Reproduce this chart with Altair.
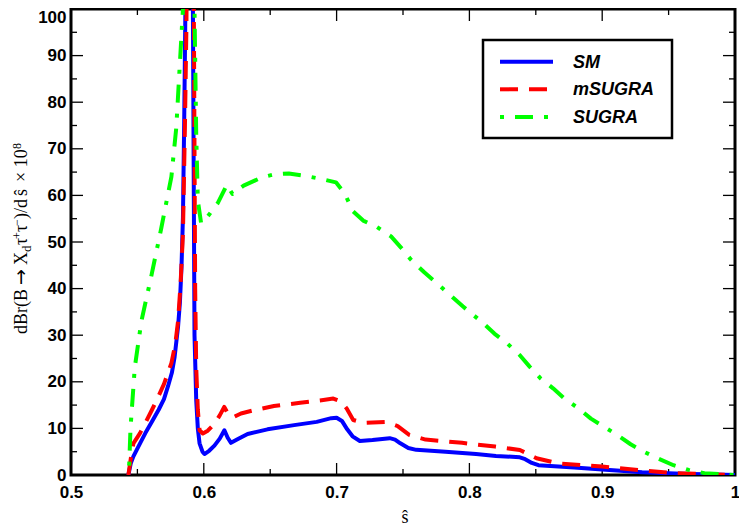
import altair as alt
import pandas as pd

# ---------------- data ----------------
series_names = ["SM", "mSUGRA", "SUGRA"]
series_colors = ["#0000ff", "#ff0000", "#00ff00"]

sm_s = [0.5432, 0.5450, 0.5470, 0.5520, 0.5560, 0.5610, 0.5660, 0.5700, 0.5730, 0.5760,
        0.5780, 0.5806, 0.5820, 0.5832, 0.5843, 0.5852, 0.5860, 0.5875, 0.5890, 0.5905,
        0.5918, 0.5930, 0.5943, 0.5955, 0.5968, 0.5990, 0.6005, 0.6040, 0.6080, 0.6120,
        0.6155, 0.6180, 0.6205, 0.6250, 0.6330, 0.6480, 0.6680, 0.6850, 0.6960, 0.7000,
        0.7040, 0.7080, 0.7120, 0.7175, 0.7270, 0.7400, 0.7440, 0.7480, 0.7540, 0.7600,
        0.7820, 0.8050, 0.8200, 0.8380, 0.8420, 0.8470, 0.8520, 0.8790, 0.9000, 0.9300,
        0.9600, 1.0000]
sm_y = [0.0, 2.5, 4.0, 6.8, 9.0, 11.5, 14.0, 16.3, 19.0, 22.0,
        25.3, 31.8, 37.0, 44.6, 55.3, 75.0, 96.0, 140.0, 200.0, 160.0,
        100.0, 30.0, 16.0, 10.0, 6.8, 5.0, 4.5, 5.2, 6.3, 7.8,
        9.6, 8.0, 6.9, 7.6, 8.8, 9.8, 10.7, 11.4, 12.2, 12.3,
        11.6, 9.8, 8.3, 7.3, 7.5, 7.9, 7.6, 6.8, 5.8, 5.4,
        5.0, 4.5, 4.1, 3.8, 3.4, 2.6, 2.1, 1.6, 1.2, 0.6,
        0.25, 0.0]

msugra_s = [0.5432, 0.5450, 0.5470, 0.5520, 0.5557, 0.5610, 0.5657, 0.5700, 0.5756, 0.5785,
            0.5806, 0.5825, 0.5843, 0.5858, 0.5869, 0.5880, 0.5893, 0.5910, 0.5925, 0.5935,
            0.5943, 0.5955, 0.5968, 0.5993, 0.6030, 0.6080, 0.6120, 0.6154, 0.6185, 0.6216,
            0.6280, 0.6378, 0.6528, 0.6726, 0.6900, 0.6975, 0.7037, 0.7075, 0.7125, 0.7200,
            0.7373, 0.7460, 0.7547, 0.7670, 0.7945, 0.8194, 0.8380, 0.8420, 0.8505, 0.8667,
            0.9000, 0.9290, 0.9540, 1.0000]
msugra_y = [0.0, 3.5, 6.8, 9.0, 11.0, 14.0, 16.8, 19.5, 24.0, 28.0,
            33.0, 41.0, 51.8, 75.0, 96.0, 140.0, 200.0, 160.0, 100.0, 40.0,
            23.0, 14.0, 9.6, 8.9, 9.5, 11.0, 12.8, 14.6, 13.0, 12.3,
            13.2, 13.9, 14.8, 15.5, 16.1, 16.4, 15.7, 14.3, 11.8, 11.2,
            11.4, 10.5, 8.6, 7.6, 6.9, 6.1, 5.35, 4.8, 3.6, 2.5,
            1.8, 1.0, 0.4, 0.0]

sugra_s = [0.5438, 0.5448, 0.5480, 0.5530, 0.5607, 0.5680, 0.5756, 0.5793, 0.5818, 0.5843,
           0.5865, 0.5895, 0.5920, 0.5930, 0.5943, 0.5955, 0.5980, 0.6030, 0.6104, 0.6174,
           0.6216, 0.6300, 0.6440, 0.6528, 0.6640, 0.6764, 0.6888, 0.6995, 0.7062, 0.7120,
           0.7200, 0.7299, 0.7410, 0.7485, 0.7560, 0.7660, 0.7800, 0.7950, 0.8095, 0.8190,
           0.8286, 0.8380, 0.8455, 0.8537, 0.8630, 0.8716, 0.8816, 0.8915, 0.9015, 0.9114,
           0.9214, 0.9313, 0.9425, 0.9537, 0.9650, 0.9770, 1.0000]
sugra_y = [2.0, 10.0, 23.0, 33.0, 43.0, 53.0, 64.0, 74.6, 87.4, 100.0,
           160.0, 220.0, 160.0, 100.0, 73.0, 58.9, 54.0, 55.5, 58.3, 62.3,
           60.3, 62.1, 63.9, 64.5, 64.7, 64.2, 63.5, 62.8, 60.4, 56.7,
           54.6, 53.3, 51.2, 48.8, 46.2, 43.5, 40.0, 36.2, 32.8, 30.3,
           28.2, 25.7, 23.2, 20.7, 18.6, 16.4, 14.4, 12.1, 10.3, 8.6,
           6.6, 5.0, 3.5, 2.1, 1.1, 0.4, 0.0]

x_major_ticks = [0.5, 0.6, 0.7, 0.8, 0.9, 1.0]
x_minor_ticks = [0.55, 0.65, 0.75, 0.85, 0.95]
y_major_ticks = [0, 10, 20, 30, 40, 50, 60, 70, 80, 90, 100]
y_minor_ticks = [5, 15, 25, 35, 45, 55, 65, 75, 85, 95]

# y-axis title: "dBr(B → X_d τ⁺τ⁻)/d ŝ × 10⁸", built from pieces
y_title_pieces = ["dBr(B", "\u2192", "X", "d", "\u03c4", "+", "\u03c4", "\u2212",
                  ")/d", "\u015d", "\u00d7 10", "8"]
x_title = "\u015d"

# ---------------- layout ----------------
W, H = 664, 466
LEFT, TOP = 63, 1          # plot origin inside the canvas (page = +8)
CANVAS_W, CANVAS_H = 731, 518
SANS = "Liberation Sans"
SERIF = "Liberation Serif"

xscale = alt.Scale(domain=[0.5, 1.0], nice=False, zero=False)
yscale = alt.Scale(domain=[0, 100], nice=False, zero=False)

xaxis = alt.Axis(values=x_major_ticks,
                 labelExpr="datum.value == 1 ? '1' : format(datum.value, '.1f')",
                 ticks=False, domain=False, grid=False, title=None,
                 labelFont=SANS, labelFontWeight="bold", labelFontSize=17,
                 labelColor="black", labelPadding=9, labelFlush=False,
                 labelOverlap=False, labelBound=False)
yaxis = alt.Axis(values=y_major_ticks, format="d",
                 ticks=False, domain=False, grid=False, title=None,
                 labelFont=SANS, labelFontWeight="bold", labelFontSize=17,
                 labelColor="black", labelPadding=5, labelFlush=False,
                 labelOverlap=False, labelBound=False,
                 labelBaseline={"condition": {"test": "datum.value >= 100", "value": "top"},
                                "value": "middle"})

one = pd.DataFrame({"k": [0]})


def px(page_x):
    return page_x - 8 - LEFT


def py(page_y):
    return page_y - 8 - TOP


def line_layer(s, y, color, dash=None):
    kw = dict(color=color, strokeWidth=4, clip=True, strokeJoin="round")
    if dash is not None:
        kw["strokeDash"] = dash
    df = pd.DataFrame({"s": s, "y": y})
    return alt.Chart(df).mark_line(**kw).encode(
        x=alt.X("s:Q", scale=xscale, axis=xaxis),
        y=alt.Y("y:Q", scale=yscale, axis=yaxis),
    )


def xtick_layer(vals, length, top):
    df = pd.DataFrame({"s": vals})
    y0, y1 = (0, length) if top else (H, H - length)
    return alt.Chart(df).mark_rule(color="black", strokeWidth=1.3).encode(
        x=alt.X("s:Q", scale=xscale, axis=xaxis),
        y=alt.value(y0), y2=alt.value(y1),
    )


def ytick_layer(vals, length, right):
    df = pd.DataFrame({"y": vals})
    x0, x1 = (W, W - length) if right else (0, length)
    return alt.Chart(df).mark_rule(color="black", strokeWidth=1.3).encode(
        y=alt.Y("y:Q", scale=yscale, axis=yaxis),
        x=alt.value(x0), x2=alt.value(x1),
    )


dash_styles = [None, [18, 11], [4, 11, 18, 11]]

layers = []
for top in (False, True):
    layers.append(xtick_layer(x_major_ticks, 12, top))
    layers.append(xtick_layer(x_minor_ticks, 6, top))
for right in (False, True):
    layers.append(ytick_layer(y_major_ticks, 12, right))
    layers.append(ytick_layer(y_minor_ticks, 6, right))

layers.append(line_layer(sm_s, sm_y, series_colors[0], dash_styles[0]))
layers.append(line_layer(msugra_s, msugra_y, series_colors[1], dash_styles[1]))
layers.append(line_layer(sugra_s, sugra_y, series_colors[2], dash_styles[2]))

# legend box (page coordinates of the reference)
layers.append(alt.Chart(one).mark_rect(fill="white", stroke="black", strokeWidth=2.5).encode(
    x=alt.value(px(483)), x2=alt.value(px(672)), y=alt.value(py(40)), y2=alt.value(py(138))))
row_page_y = [61.7, 89.3, 117.0]
for i, name in enumerate(series_names):
    kw = dict(color=series_colors[i], strokeWidth=4)
    if dash_styles[i] is not None:
        kw["strokeDash"] = dash_styles[i]
    layers.append(alt.Chart(one).mark_rule(**kw).encode(
        x=alt.value(px(500)), x2=alt.value(px(553)), y=alt.value(py(row_page_y[i]))))
    layers.append(alt.Chart(one).mark_text(
        text=name, font=SANS, fontSize=18, fontWeight="bold", fontStyle="italic",
        align="left", baseline="middle", color="black").encode(
        x=alt.value(px(573)), y=alt.value(py(row_page_y[i]) + 1)))

# y-axis title pieces: (start page y, font, size, baseline page x)
piece_layout = [
    (334, SERIF, 18, 27),          # dBr(B
    (285, "DejaVu Sans", 19, 27),  # arrow
    (265, SERIF, 18, 27),          # X
    (252, SERIF, 13, 31),          # d (subscript)
    (245, SERIF, 18, 27),          # tau
    (239, SERIF, 12, 21),          # +
    (232, SERIF, 18, 27),          # tau
    (226, SERIF, 12, 21),          # minus
    (219, SERIF, 18, 27),          # )/d
    (196, SERIF, 18, 27),          # s-hat
    (182, SERIF, 18, 27),          # × 10
    (149, SERIF, 12, 21),          # 8
]
for text, (sy, font, size, bx) in zip(y_title_pieces, piece_layout):
    layers.append(alt.Chart(one).mark_text(
        text=text, font=font, fontSize=size, angle=270, align="left",
        baseline="alphabetic", color="black").encode(
        x=alt.value(px(bx)), y=alt.value(py(sy))))

# x-axis title
layers.append(alt.Chart(one).mark_text(
    text=x_title, font=SERIF, fontSize=18, align="center",
    baseline="alphabetic", color="black").encode(x=alt.value(px(405)), y=alt.value(py(523))))

chart = alt.layer(*layers).properties(
    width=W, height=H,
    autosize=alt.AutoSizeParams(type="none"),
    padding={"left": LEFT, "top": TOP, "right": CANVAS_W - LEFT - W,
             "bottom": CANVAS_H - TOP - H},
).configure_view(stroke="black", strokeWidth=3)

chart.save("out.html", embed_options={"renderer": "svg", "actions": False})
